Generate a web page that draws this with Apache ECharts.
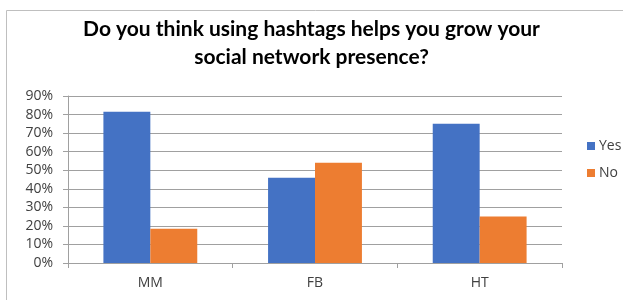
<!DOCTYPE html>
<html>
<head>
<meta charset="utf-8">
<script src="https://cdn.jsdelivr.net/npm/echarts@6/dist/echarts.min.js"></script>
<style>
  html, body { margin: 0; padding: 0; background: #fff; }
  #chart { width: 623px; height: 300px; }
</style>
</head>
<body>
<div id="chart"></div>
<script>
  // Survey answers per network
  var categories = ['MM', 'FB', 'HT'];
  var yesValues = [81.5, 46, 75];
  var noValues = [18.5, 54, 25];
  var titleLines = ['Do you think using hashtags helps you grow your', 'social network presence?'];

  var chart = echarts.init(document.getElementById('chart'), null, { renderer: 'canvas' });

  var axisFont = { color: '#404040', fontSize: 14, fontFamily: 'Open Sans' };

  chart.setOption({
    backgroundColor: '#fff',
    animation: false,
    color: ['#4472C4', '#ED7D31'],
    title: {
      text: titleLines.join('\n'),
      left: 'center',
      top: 10,
      textStyle: {
        color: '#000',
        fontSize: 21,
        fontWeight: 'bold',
        fontFamily: 'Lato',
        lineHeight: 28
      }
    },
    graphic: [
      {
        type: 'rect',
        shape: { x: 6.5, y: 10.5, width: 640, height: 300 },
        style: { fill: 'none', stroke: '#bfbfbf', lineWidth: 1 },
        silent: true
      }
    ],
    legend: {
      orient: 'vertical',
      left: 582,
      top: 134,
      itemWidth: 8,
      itemHeight: 8,
      itemGap: 13,
      icon: 'rect',
      textStyle: { color: '#404040', fontSize: 14, fontFamily: 'Open Sans', padding: [0, 0, 0, -1] },
      data: ['Yes', 'No']
    },
    grid: {
      left: 68,
      right: 61,
      top: 96,
      bottom: 37
    },
    xAxis: {
      type: 'category',
      data: categories,
      axisLine: { lineStyle: { color: '#a0a0a0' } },
      axisTick: { show: true, length: 5, lineStyle: { color: '#a0a0a0' } },
      axisLabel: Object.assign({ margin: 13 }, axisFont)
    },
    yAxis: {
      type: 'value',
      min: 0,
      max: 90,
      interval: 10,
      axisLine: { show: true, lineStyle: { color: '#a0a0a0' } },
      axisTick: { show: true, length: 5, lineStyle: { color: '#a0a0a0' } },
      axisLabel: Object.assign({
        margin: 15,
        formatter: function (v) { return v + '%'; }
      }, axisFont),
      splitLine: { lineStyle: { color: '#a0a0a0', width: 1 } }
    },
    series: [
      {
        name: 'Yes',
        type: 'bar',
        data: yesValues,
        barGap: '0%',
        barCategoryGap: '43%'
      },
      {
        name: 'No',
        type: 'bar',
        data: noValues,
        barGap: '0%',
        barCategoryGap: '43%'
      }
    ]
  });
</script>
</body>
</html>
